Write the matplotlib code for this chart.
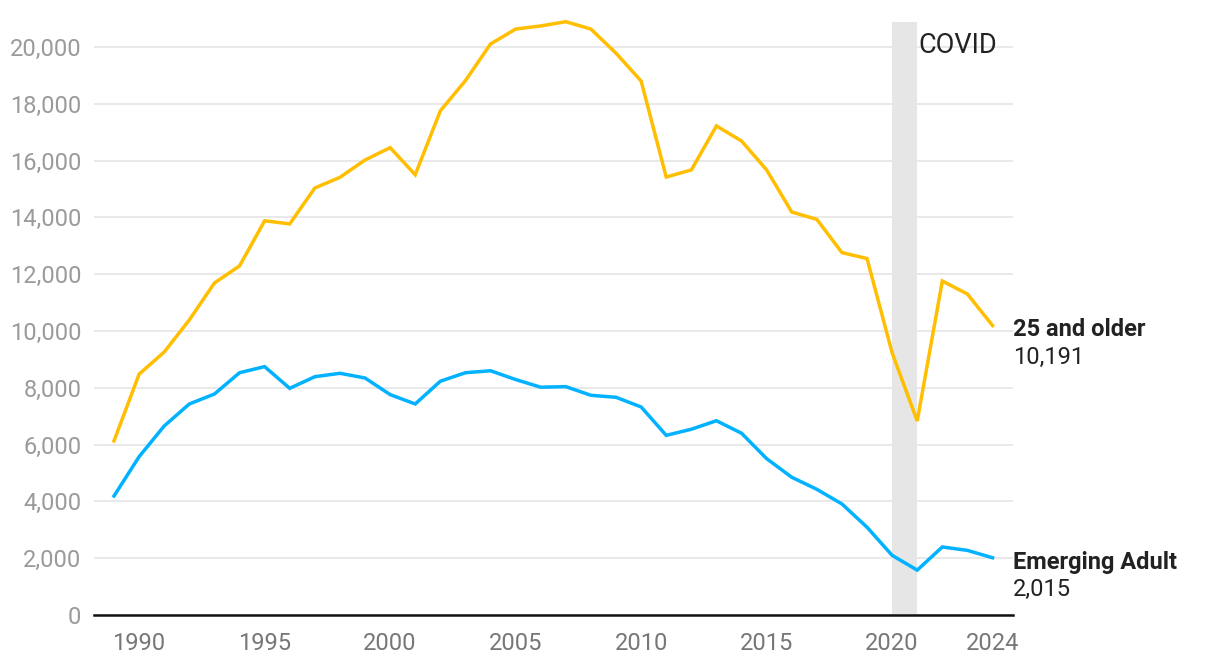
import matplotlib.pyplot as plt
from matplotlib.ticker import FuncFormatter

plt.rcParams['font.family'] = ['Roboto', 'DejaVu Sans']

# data
years = list(range(1989, 2025))
older = [6130, 8480, 9260, 10390, 11690, 12290, 13880, 13770, 15035, 15410,
         16020, 16455, 15500, 17750, 18815, 20105, 20630, 20740, 20890, 20630,
         19780, 18800, 15420, 15670, 17220, 16690, 15670, 14190, 13930, 12760,
         12550, 9230, 6830, 11760, 11300, 10191]
emerging = [4190, 5575, 6655, 7430, 7780, 8530, 8745, 7980, 8390, 8510,
            8345, 7760, 7430, 8230, 8530, 8600, 8290, 8020, 8040, 7735,
            7665, 7325, 6325, 6540, 6840, 6400, 5505, 4850, 4425, 3910,
            3090, 2100, 1580, 2395, 2275, 2015]
xticks = [1990, 1995, 2000, 2005, 2010, 2015, 2020, 2024]
yticks = list(range(0, 20001, 2000))

fig = plt.figure(figsize=(12.2, 6.66), dpi=100)
ax = fig.add_axes([0.077, 0.0766, 0.753, 0.8904])

ax.axvspan(2020, 2021, color='#e6e6e6', zorder=1, lw=0)
ax.text(2021.05, 20050, 'COVID', fontsize=19.5, color='#222222', va='center', ha='left', zorder=5)

ax.plot(years, older, color='#FFBF00', lw=2.5, zorder=3, solid_joinstyle='miter', clip_on=False)
ax.plot(years, emerging, color='#00B2FF', lw=2.5, zorder=3, solid_joinstyle='miter', clip_on=False)

ax.set_xlim(1988.2, 2024.8)
ax.set_ylim(0, 20880)
ax.set_xticks(xticks)
ax.set_yticks(yticks)
ax.yaxis.set_major_formatter(FuncFormatter(lambda v, p: f'{int(v):,}'))
ax.tick_params(length=0, labelsize=17)
ax.tick_params(axis='y', pad=9, labelcolor='#9a9a9a')
ax.tick_params(axis='x', pad=12, labelcolor='#777777')
ax.grid(axis='y', color='#e5e5e5', lw=1.2, zorder=0)
ax.set_axisbelow(True)
for s in ['top', 'right', 'left']:
    ax.spines[s].set_visible(False)
ax.spines['bottom'].set_color('#111111')
ax.spines['bottom'].set_linewidth(1.8)
ax.spines['bottom'].set_zorder(4)

# end labels
tr = ax.get_yaxis_transform()
ax.text(1.0, older[-1] - 150, '25 and older', transform=tr,
        fontsize=17, fontweight='bold', color='#222222', va='center', ha='left', clip_on=False)
ax.text(1.0, older[-1] - 1120, f'{older[-1]:,}', transform=tr,
        fontsize=17, color='#222222', va='center', ha='left', clip_on=False)
ax.text(1.0, emerging[-1] - 150, 'Emerging Adult', transform=tr,
        fontsize=17, fontweight='bold', color='#222222', va='center', ha='left', clip_on=False)
ax.text(1.0, emerging[-1] - 1120, f'{emerging[-1]:,}', transform=tr,
        fontsize=17, color='#222222', va='center', ha='left', clip_on=False)

fig.savefig('out.png', dpi=100)
